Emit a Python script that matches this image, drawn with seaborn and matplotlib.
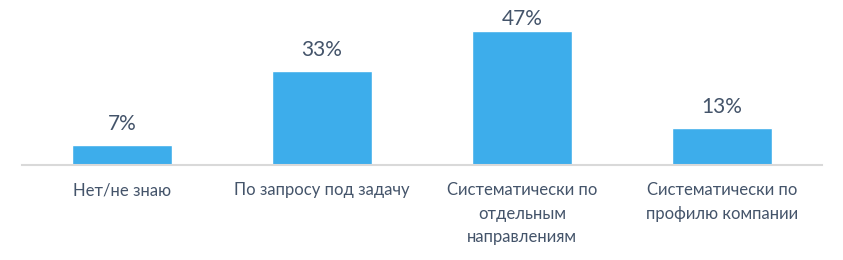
import matplotlib
matplotlib.use("Agg")
import matplotlib.pyplot as plt
import seaborn as sns
import pandas as pd

categories = ["Нет/не знаю", "По запросу под задачу",
              "Систематически по\nотдельным\nнаправлениям",
              "Систематически по\nпрофилю компании"]
values = [7, 33, 47, 13]
value_labels = ["7%", "33%", "47%", "13%"]

sns.set_theme(style="white")
plt.rcParams['font.family'] = ['Lato', 'DejaVu Sans']

text_color = "#44546A"
bar_color = "#3DADEB"

df = pd.DataFrame({"cat": categories, "val": values})

px_per_unit = 2.85
fig = plt.figure(figsize=(8.43, 2.60), dpi=100)
ax = fig.add_axes([22/843, 95/260, 800/843, 165/260])
sns.barplot(data=df, x="cat", y="val", color=bar_color, width=0.5,
            saturation=1, ax=ax)
ax.set_xlim(-0.5, 3.5)
ax.set_ylim(0, 165/px_per_unit)
ymax_label = 140/px_per_unit
for i, (v, lab) in enumerate(zip(values, value_labels)):
    y = min(v + 15/px_per_unit, ymax_label)
    ax.text(i, y, lab, ha="center", va="baseline", fontsize=15,
            color=text_color)
ax.set_xlabel("")
ax.set_ylabel("")
ax.set_yticks([])
ax.tick_params(axis="x", length=0, pad=12.5, labelsize=12, labelcolor=text_color)
for lbl in ax.get_xticklabels():
    lbl.set_linespacing(1.58)
for s in ["top", "right", "left"]:
    ax.spines[s].set_visible(False)
ax.spines["bottom"].set_color("#D9D9D9")
ax.spines["bottom"].set_linewidth(1.5)
fig.savefig("out.png", dpi=100)
